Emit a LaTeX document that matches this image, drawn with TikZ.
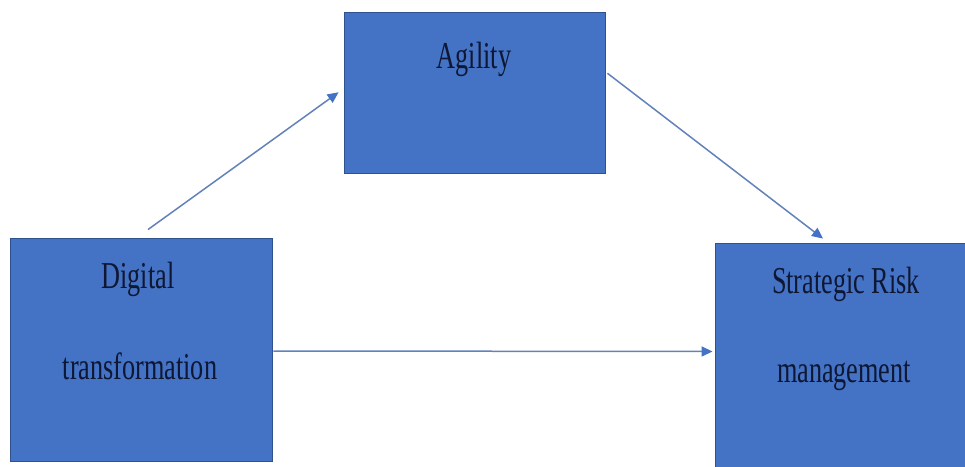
\documentclass[tikz,border=0pt]{standalone}
\usepackage{fontspec}
\setmainfont{Liberation Serif}
\usetikzlibrary{calc,arrows.meta}
\definecolor{boxblue}{HTML}{4472C4}
\definecolor{boxedge}{HTML}{2F528F}
\definecolor{linecol}{HTML}{6282BA}
\definecolor{txtcol}{HTML}{0E1733}
\newcommand{\narrowtxt}[1]{\scalebox{0.69}[1]{#1}}
\tikzset{
  boxnode/.style={draw=boxedge, line width=0.9pt, fill=boxblue, inner sep=0pt},
  lbl/.style={anchor=base, inner sep=0pt, text=txtcol, font=\fontsize{38}{40}\selectfont},
  conn/.style={draw=linecol, line width=1.5pt, -{Triangle[length=11pt,width=10pt,fill=boxblue,color=boxblue]}}
}
\begin{document}
\begin{tikzpicture}[x=1pt,y=1pt]
\useasboundingbox (0,0) rectangle (965,466);
\fill[white] (0,0) rectangle (965,466);
\node[boxnode, minimum width=261pt, minimum height=161pt] (agility) at (474.5,372.7) {};
\node[boxnode, minimum width=262pt, minimum height=223pt] (digital) at (141,116.5) {};
\node[boxnode, minimum width=262pt, minimum height=233pt] (strategic) at (846,106.5) {};
\node[lbl] (tagility) at (474,397) {\narrowtxt{Agility}};
\node[lbl] (tdigital1) at (138,178) {\narrowtxt{Digital}};
\node[lbl] (tdigital2) at (140,87) {\narrowtxt{transformation}};
\node[lbl] (tstrat1) at (846,173) {\narrowtxt{Strategic Risk}};
\node[lbl] (tstrat2) at (844,84) {\narrowtxt{management}};
\draw[conn] ($(digital.north)+(7,8)$) -- ($(agility.west)+(-5,1)$);
\draw[conn] ($(agility.east)+(2,20)$) -- ($(strategic.north)+(-23,4)$);
\draw[conn] ($(digital.east)+(1,-1.5)$) -- ($(strategic.west)+(-2,8)$);
\end{tikzpicture}
\end{document}
